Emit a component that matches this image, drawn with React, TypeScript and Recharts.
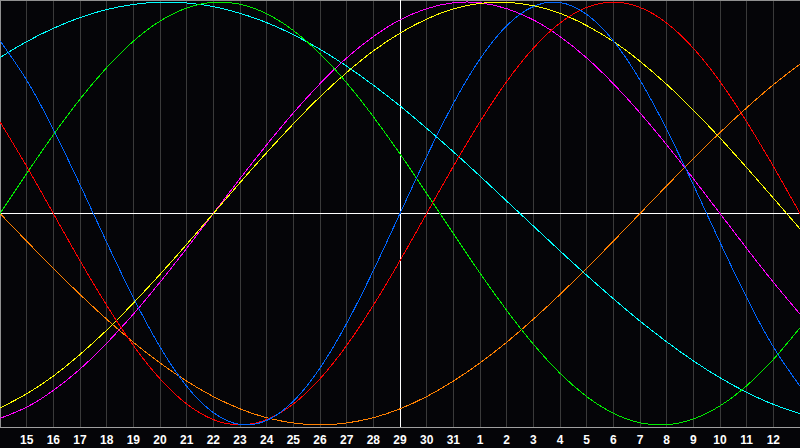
import React from 'react';
import { LineChart, Line, XAxis, YAxis, CartesianGrid, ReferenceLine } from 'recharts';

const dayLabels = ['14','15','16','17','18','19','20','21','22','23','24','25','26','27','28','29','30','31','1','2','3','4','5','6','7','8','9','10','11','12','13'];

const physical = [81.7,63.1,39.8,13.6,-13.6,-39.8,-63.1,-81.7,-94.2,-99.8,-97.9,-88.8,-73.1,-52.0,-27.0,0,27.0,52.0,73.1,88.8,97.9,99.8,94.2,81.7,63.1,39.8,13.6,-13.6,-39.8,-63.1,-81.7];
const emotional = [43.4,22.3,0,-22.3,-43.4,-62.4,-78.2,-90.1,-97.5,-100,-97.5,-90.1,-78.2,-62.4,-43.4,-22.3,0,22.3,43.4,62.4,78.2,90.1,97.5,100,97.5,90.1,78.2,62.4,43.4,22.3,0];
const intellectual = [0,18.9,37.2,54.1,69.0,81.5,91.0,97.2,99.9,99.0,94.5,86.6,75.6,61.8,45.8,28.2,9.5,-9.5,-28.2,-45.8,-61.8,-75.6,-86.6,-94.5,-99.0,-99.9,-97.2,-91.0,-81.5,-69.0,-54.1];
const intuitive = [-96.9,-91.6,-83.7,-73.6,-61.4,-47.6,-32.5,-16.5,0,16.5,32.5,47.6,61.4,73.6,83.7,91.6,96.9,99.7,99.7,96.9,91.6,83.7,73.6,61.4,47.6,32.5,16.5,0,-16.5,-32.5,-47.6];
const aesthetic = [-92.0,-85.3,-76.9,-66.7,-55.2,-42.4,-28.8,-14.6,0,14.6,28.8,42.4,55.2,66.7,76.9,85.3,92.0,96.8,99.4,99.9,98.3,94.7,88.9,81.4,72.0,61.1,48.9,35.7,21.7,7.3,-7.3];
const awareness = [0,-13.1,-25.9,-38.3,-50,-60.9,-70.7,-79.3,-86.6,-92.4,-96.6,-99.1,-100,-99.1,-96.6,-92.4,-86.6,-79.3,-70.7,-60.9,-50,-38.3,-25.9,-13.1,0,13.1,25.9,38.3,50,60.9,70.7];
const spiritual = [73.8,81.3,87.6,92.7,96.5,98.9,100,99.6,97.9,94.7,90.3,84.6,77.7,69.7,60.7,50.9,40.3,29.2,17.7,5.9,-5.9,-17.7,-29.2,-40.3,-50.9,-60.7,-69.7,-77.7,-84.6,-90.3,-94.7];

const tickIdx = [1,2,3,4,5,6,7,8,9,10,11,12,13,14,15,16,17,18,19,20,21,22,23,24,25,26,27,28,29];
const todayIdx = 15;

const data = dayLabels.map((d, i) => ({
  i,
  day: d,
  physical: physical[i],
  emotional: emotional[i],
  intellectual: intellectual[i],
  intuitive: intuitive[i],
  aesthetic: aesthetic[i],
  awareness: awareness[i],
  spiritual: spiritual[i],
}));

const series: { key: string; color: string }[] = [
  { key: 'awareness', color: '#ff8000' },
  { key: 'spiritual', color: '#00ffff' },
  { key: 'intuitive', color: '#ff00ff' },
  { key: 'aesthetic', color: '#ffff00' },
  { key: 'intellectual', color: '#00ee00' },
  { key: 'emotional', color: '#ff0000' },
  { key: 'physical', color: '#0066ff' },
];

export default function App() {
  return (
    <div style={{ position: 'absolute', left: 0, top: 0, width: 800, height: 448, background: '#050508' }}>
      <style>{`.bio svg path, .bio svg line { shape-rendering: crispEdges; }`}</style>
      <div className="bio">
        <LineChart width={800} height={448} data={data} margin={{ top: 0, right: 0, left: 0, bottom: 0 }}>
          <CartesianGrid vertical={true} horizontal={false} stroke="#3a3a3a" />
          <XAxis
            dataKey="i"
            type="number"
            domain={[0, 30]}
            ticks={tickIdx}
            tickFormatter={(v: number) => dayLabels[v]}
            interval={0}
            height={21}
            tickLine={false}
            axisLine={{ stroke: '#a0a0a0' }}
            tick={{ fill: '#ffffff', fontFamily: 'Liberation Sans, Arial, sans-serif', fontWeight: 'bold', fontSize: 12 }}
          />
          <YAxis hide domain={[-101, 101]} type="number" />
          <ReferenceLine x={0} stroke="#909090" />
          <ReferenceLine y={101} stroke="#909090" />
          <ReferenceLine y={0} stroke="#ffffff" />
          <ReferenceLine x={todayIdx} stroke="#ffffff" />
          {series.map((s) => (
            <Line
              key={s.key}
              dataKey={s.key}
              type="natural"
              stroke={s.color}
              strokeWidth={1}
              dot={false}
              activeDot={false}
              isAnimationActive={false}
            />
          ))}
        </LineChart>
      </div>
    </div>
  );
}
